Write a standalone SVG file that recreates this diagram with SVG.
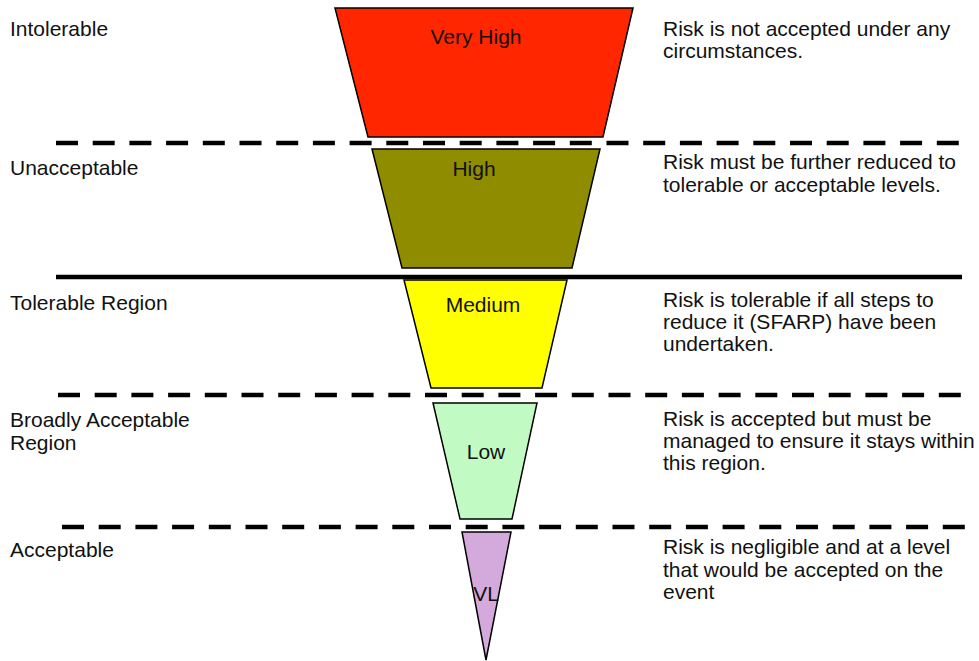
<svg xmlns="http://www.w3.org/2000/svg" width="979" height="661" viewBox="0 0 979 661">
<style>
  text { font-family: "Liberation Sans", Arial, sans-serif; font-size: 21px; fill: #111; }
  .c { text-anchor: middle; }
  .tier { stroke: #000; stroke-width: 1.5; stroke-linejoin: miter; }
  .dash { stroke: #000; stroke-width: 4.5; stroke-dasharray: 22 14.7; fill: none; }
  .solid { stroke: #000; stroke-width: 4.5; fill: none; }
</style>
<rect width="979" height="661" fill="#fff"/>
<g id="separators">
  <line class="dash" x1="56" y1="143" x2="963" y2="143"/>
  <line class="solid" x1="56" y1="277" x2="962" y2="277"/>
  <line class="dash" x1="58" y1="395" x2="975" y2="395"/>
  <line class="dash" x1="62" y1="527" x2="975" y2="527"/>
</g>
<g id="very-high">
  <polygon class="tier" fill="#ff2600" points="335,8 633,8 603,137 368,137"/>
  <text class="c" x="476" y="44">Very High</text>
</g>
<g id="high">
  <polygon class="tier" fill="#8f8c00" points="372,149 600,149 572,268 402,268"/>
  <text class="c" x="474" y="176">High</text>
</g>
<g id="medium">
  <polygon class="tier" fill="#ffff00" points="404,280 567,280 542,388 431,388"/>
  <text class="c" x="483" y="312">Medium</text>
</g>
<g id="low">
  <polygon class="tier" fill="#c1fbc3" points="433,403 537,403 512,519 460,519"/>
  <text class="c" x="486" y="459">Low</text>
</g>
<g id="very-low">
  <polygon class="tier" fill="#d4a9db" points="462,532 511,532 486,660"/>
  <text class="c" x="486" y="601">VL</text>
</g>
<g id="left-labels">
  <text x="10" y="36">Intolerable</text>
  <text x="10" y="175">Unacceptable</text>
  <text x="10" y="310">Tolerable Region</text>
  <text x="10" y="427">Broadly Acceptable</text>
  <text x="10" y="450">Region</text>
  <text x="10" y="557">Acceptable</text>
</g>
<g id="right-descriptions">
  <text x="663" y="36">Risk is not accepted under any</text>
  <text x="663" y="58">circumstances.</text>
  <text x="663" y="169">Risk must be further reduced to</text>
  <text x="663" y="192">tolerable or acceptable levels.</text>
  <text x="663" y="307">Risk is tolerable if all steps to</text>
  <text x="663" y="329">reduce it (SFARP) have been</text>
  <text x="663" y="351">undertaken.</text>
  <text x="663" y="426">Risk is accepted but must be</text>
  <text x="663" y="448">managed to ensure it stays within</text>
  <text x="663" y="470">this region.</text>
  <text x="663" y="554">Risk is negligible and at a level</text>
  <text x="663" y="577">that would be accepted on the</text>
  <text x="663" y="599">event</text>
</g>
</svg>
